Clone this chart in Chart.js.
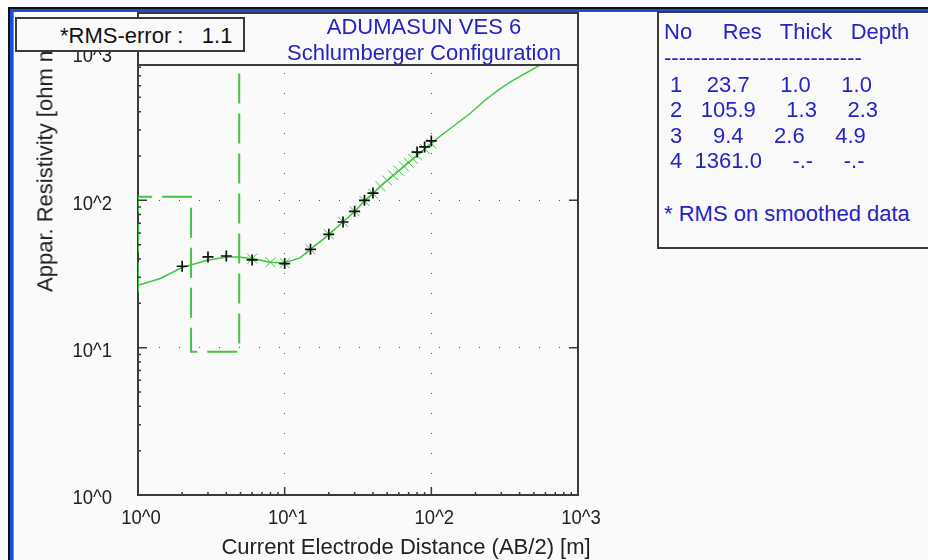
<!DOCTYPE html>
<html><head><meta charset="utf-8">
<script src="https://cdn.jsdelivr.net/npm/chart.js@4.4.1/dist/chart.umd.min.js"></script>
<style>
body{margin:0;background:#fff;}
#wrap{position:relative;width:928px;height:560px;overflow:hidden;}
.a{position:absolute;}
.t{position:absolute;white-space:pre;font-family:"Liberation Sans",Arial,sans-serif;font-size:22px;line-height:22px;}
</style></head><body>
<div id="wrap">
 <div class="a" style="left:8px;top:7px;width:920px;height:553px;background:#fafafa"></div>
 <div class="a" style="left:8px;top:7px;width:920px;height:2px;background:#111"></div>
 <div class="a" style="left:8px;top:7px;width:2px;height:553px;background:#111"></div>
 <div class="a" style="left:10px;top:9px;width:918px;height:3px;background:#1450d8"></div>
 <div class="a" style="left:10px;top:9px;width:3px;height:551px;background:#1450d8"></div>
 <div class="a" style="left:13px;top:12px;width:1px;height:548px;background:#5a90ee"></div>
 <canvas id="c" width="928" height="560" class="a" style="left:0;top:0;z-index:1"></canvas>
 <!-- title box over top of plot -->
 <div class="a" style="left:137px;top:12px;width:438px;height:50px;border:2px solid #3a3a3a;background:#fafafa;z-index:2"></div>
 <div class="a" style="left:577px;top:64px;width:2px;height:432px;background:#3a3a3a;z-index:2"></div>
 <!-- RMS box -->
 <div class="a" style="left:15px;top:17px;width:226px;height:31px;border:2px solid #3a3a3a;background:#fafafa;z-index:4"></div>
 <!-- table box -->
 <div class="a" style="left:657px;top:11px;width:300px;height:234px;border:2px solid #3a3a3a;background:#fafafa;z-index:2"></div>
</div>
<script>
// ---------- data ----------
const layerNo      = [1, 2, 3, 4];
const layerRes     = [23.7, 105.9, 9.4, 1361.0];
const layerThick   = [1.0, 1.3, 2.6];
const layerDepth   = [1.0, 2.3, 4.9];

const fieldAB  = [2, 3, 4, 6, 10, 15, 20, 25, 30, 35, 40, 80, 90, 100];
const fieldRho = [35.7, 41.3, 41.9, 39.4, 37.2, 46.5, 58.8, 71.3, 84.2, 100, 112, 212.6, 230.5, 253];

const smoothAB  = [6, 8, 10, 15, 20, 25, 30, 35, 40, 45, 50, 55, 60, 65, 70, 75, 80, 90, 100];
const smoothRho = [40.2, 38.0, 37.6, 46.5, 58.8, 71.3, 84.2, 99, 111, 124.6, 136.4, 147.7, 158.8, 170.3, 180.4, 191.2, 201.8, 224, 243];

const curveAB  = [1.0, 1.42, 2.0, 2.96, 4.04, 4.85, 6.13, 7.97, 9.81, 12.75, 14.9, 17.4, 20.1, 24.9, 30.2, 34.9, 40.2, 47.0, 55.0, 64.3, 75.2, 88.0, 111.3, 148.4, 182.8, 231.1, 292, 360, 547, 1000];
const curveRho = [26.5, 29.5, 35.0, 39.2, 41.3, 41.3, 40.2, 38.0, 37.6, 40.7, 46.5, 52.2, 58.8, 71.3, 84.2, 98.9, 112, 129.8, 147.7, 168.2, 191.8, 218.3, 266.1, 331, 387, 476, 568, 651, 823, 1110];

const xTickLabels = ['10^0', '10^1', '10^2', '10^3'];
const yTickLabels = ['10^0', '10^1', '10^2', '10^3'];

const titleLines = ['ADUMASUN VES 6', 'Schlumberger Configuration'];
const rmsText = '*RMS-error :   1.1';
const xTitle = 'Current Electrode Distance (AB/2) [m]';
const yTitle = 'Appar. Resistivity [ohm m]';
const tableHeader = 'No     Res   Thick   Depth';
const tableNote = '* RMS on smoothed data';

// ---------- build ----------
const GREEN = '#3fc63f';
const BLUE = '#2424c4';
const AXIS = '#3a3a3a';

function pts(xs, ys){ return xs.map((x,i)=>({x:x, y:ys[i]})); }
const modelPts = [];
for (let i = 0; i < layerDepth.length; i++) {
  modelPts.push({x: layerDepth[i], y: layerRes[i]});
  modelPts.push({x: layerDepth[i], y: layerRes[i+1]});
}
function isDecade(v){ const l = Math.log10(v); return Math.abs(l - Math.round(l)) < 1e-9; }
function logTickValues(){ const v=[]; for(let e=0;e<3;e++){ for(let m=1;m<10;m++) v.push(m*Math.pow(10,e)); } v.push(1000); return v; }

const TICK_FONT = '21px "Liberation Sans", Arial, sans-serif';
const NARROW = 0.88;

const tickMarks = {
  id: 'tickMarks',
  afterDatasetsDraw(chart){
    const {ctx, chartArea:a, scales:{x, y}} = chart;
    ctx.save();
    ctx.strokeStyle = AXIS; ctx.lineWidth = 1.5;
    ctx.beginPath();
    y.ticks.forEach(t => {
      const v = t.value; if (v <= 1 || v >= 1000) return;
      const p = y.getPixelForValue(v); const major = isDecade(v);
      ctx.moveTo(a.left, p); ctx.lineTo(a.left + (major ? 9 : 3), p);
      if (major) { ctx.moveTo(a.right, p); ctx.lineTo(a.right - 9, p); }
    });
    x.ticks.forEach(t => {
      const v = t.value; if (v <= 1 || v >= 1000) return;
      const p = x.getPixelForValue(v); const major = isDecade(v);
      ctx.moveTo(p, a.bottom); ctx.lineTo(p, a.bottom - (major ? 8 : 3));
    });
    ctx.stroke();
    ctx.restore();
  },
  afterDraw(chart){
    // decade labels in a narrow face, placed from the scales
    const {ctx, chartArea:a, scales:{x, y}} = chart;
    ctx.save();
    ctx.font = TICK_FONT; ctx.fillStyle = '#222'; ctx.textBaseline = 'middle';
    x.ticks.forEach(t => {
      if (!isDecade(t.value)) return;
      const lbl = xTickLabels[Math.round(Math.log10(t.value))];
      ctx.save(); ctx.translate(x.getPixelForValue(t.value) + 3, a.bottom + 23); ctx.scale(NARROW, 1);
      ctx.textAlign = 'center'; ctx.fillText(lbl, 0, 0); ctx.restore();
    });
    y.ticks.forEach(t => {
      if (!isDecade(t.value)) return;
      const lbl = yTickLabels[Math.round(Math.log10(t.value))];
      ctx.save(); ctx.translate(a.left - 26, y.getPixelForValue(t.value) + 3.5); ctx.scale(NARROW, 1);
      ctx.textAlign = 'right'; ctx.fillText(lbl, 0, 0); ctx.restore();
    });
    ctx.restore();
  }
};

const hiddenTicks = {autoSkip:false, maxRotation:0, padding:10, color:'rgba(0,0,0,0)', font:{size:21},
                     callback: v => isDecade(v) ? '10^' + Math.round(Math.log10(v)) : ''};
const gridColor = ctx => (ctx.tick && isDecade(ctx.tick.value) && ctx.tick.value > 1 && ctx.tick.value < 1000) ? '#555' : 'rgba(0,0,0,0)';

new Chart(document.getElementById('c'), {
  type: 'scatter',
  data: { datasets: [
    {label:'Field data', data: pts(fieldAB, fieldRho), showLine:false, pointStyle:'cross', pointRadius:5.5, pointBorderWidth:1.7, pointBorderColor:'#111', pointBackgroundColor:'#111', order:0},
    {label:'Smoothed data', data: pts(smoothAB, smoothRho), showLine:false, pointStyle:'crossRot', pointRadius:7, pointBorderWidth:1, pointBorderColor:GREEN, pointBackgroundColor:GREEN, order:1},
    {label:'Model response', data: pts(curveAB, curveRho), showLine:true, pointRadius:0, borderColor:GREEN, borderWidth:1.5, tension:0, order:2},
    {label:'Layer model', data: modelPts, showLine:true, pointRadius:0, borderColor:GREEN, borderWidth:2, borderDash:[30,10], tension:0, order:3}
  ]},
  options: {
    responsive:false, animation:false, events:[],
    layout:{padding:{top:53, right:350, left:0, bottom:0}},
    plugins:{legend:{display:false}, tooltip:{enabled:false}},
    scales:{
      x:{type:'logarithmic', position:'bottom', min:1, max:1000,
         afterBuildTicks: s => { s.ticks = logTickValues().map(v=>({value:v})); },
         afterFit: s => { s.height = 65; },
         ticks: hiddenTicks,
         grid:{drawTicks:false, color:gridColor, lineWidth:1},
         border:{display:true, color:AXIS, width:2, dash:[1,19]}},
      y:{type:'logarithmic', position:'left', min:1, max:1000,
         afterBuildTicks: s => { s.ticks = logTickValues().map(v=>({value:v})); },
         afterFit: s => { s.width = 138; },
         ticks: Object.assign({}, hiddenTicks, {padding:26}),
         grid:{drawTicks:false, color:gridColor, lineWidth:1},
         border:{display:true, color:AXIS, width:2, dash:[1,19]}}
    }
  },
  plugins:[tickMarks]
});

// ---------- text overlays ----------
const wrap = document.getElementById('wrap');
const FS = 22, BASE = FS * 0.8465;
function addText(str, x, baseline, color, z, opts){
  const d = document.createElement('div');
  d.className = 't'; d.textContent = str;
  d.style.color = color; d.style.zIndex = z;
  d.style.top = (baseline - BASE) + 'px';
  if (opts && opts.center !== undefined) { d.style.left = (opts.center - 300) + 'px'; d.style.width = '600px'; d.style.textAlign = 'center'; }
  else d.style.left = x + 'px';
  wrap.appendChild(d); return d;
}
addText(rmsText, 60, 44, '#111', 5);
addText(titleLines[0], 0, 35, BLUE, 3, {center:424});
addText(titleLines[1], 0, 61, BLUE, 3, {center:424});
addText(xTitle, 0, 555, '#222', 3, {center:406});
const yt = addText(yTitle, 0, 0, '#222', 3);
yt.style.top = '0px'; yt.style.left = '0px';
yt.style.transformOrigin = '0 0';
yt.style.transform = 'translate(' + (53 - BASE) + 'px, 292px) rotate(-90deg)';

addText(tableHeader, 664, 40, BLUE, 3);
addText('-'.repeat(27), 664, 66, BLUE, 3);
const rowBase = [93, 118, 143.5, 169];
layerNo.forEach((n, i) => {
  const th = i < layerThick.length ? layerThick[i].toFixed(1) : '-.-';
  const dp = i < layerDepth.length ? layerDepth[i].toFixed(1) : '-.-';
  const row = ' ' + n + layerRes[i].toFixed(1).padStart(8) + th.padStart(8) + dp.padStart(8);
  addText(row, 664, rowBase[i], BLUE, 3);
});
addText(tableNote, 664, 222, BLUE, 3);
</script>
</body></html>
